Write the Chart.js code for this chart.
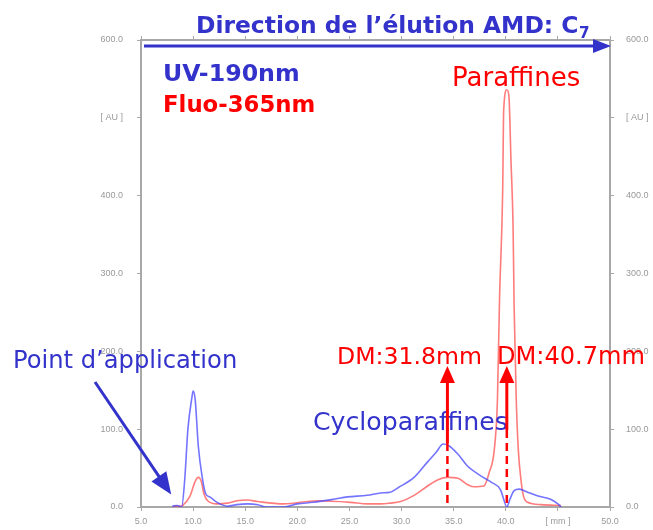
<!DOCTYPE html>
<html>
<head>
<meta charset="utf-8">
<script src="https://cdn.jsdelivr.net/npm/chart.js@4"></script>
<style>
  html, body { margin: 0; padding: 0; background: #fff; }
  canvas { display: block; }
</style>
</head>
<body>
<canvas id="chromato" width="653" height="530"></canvas>
<script>
// UV-190nm (bleu) : position sur la plaque (mm) et réponse (AU)
const uvPos = [8.0, 8.5, 8.9, 9.2, 9.5, 9.9, 10.0, 10.2, 10.5, 10.9,
  11.2, 11.6, 12.3, 13.3, 14.2, 15.2, 16.2, 17.0, 18.0, 18.7,
  20.0, 21.5, 23.5, 24.8, 26.7, 28.0, 28.9, 29.7, 31.2, 32.5,
  33.3, 34.0, 34.5, 35.4, 36.3, 37.6, 38.6, 39.5, 39.8, 40.1,
  40.4, 40.8, 41.3, 42.1, 43.1, 44.3, 45.0, 45.3];
const uvAU = [1, 2, 0, 36, 100, 142, 149, 138, 78, 36,
  17, 13, 6, 1, 3, 4, 3, 0, 0, 0,
  4, 6, 10, 13, 15, 18, 19, 25, 38, 58,
  70, 81, 79, 68, 53, 40, 32, 22, 10, 0,
  10, 21, 23, 19, 14, 10, 4, 0];

// Fluo-365nm (rouge)
const fluoPos = [8.1, 8.8, 9.0, 9.7, 10.2, 10.5, 10.8, 11.0, 11.4, 12.3,
  13.3, 14.2, 15.2, 16.2, 18.7, 21.9, 25.1, 26.7, 28.0, 28.9,
  29.9, 31.2, 32.5, 33.5, 34.4, 35.4, 36.3, 36.9, 37.9, 38.4,
  38.9, 39.2, 39.4, 39.7, 39.8, 40.1, 40.3, 40.5, 40.7, 40.8,
  41.0, 41.2, 41.5, 41.7, 42.1, 43.4, 45.3];
const fluoAU = [1, 1, 2, 14, 33, 38, 32, 19, 8, 4,
  5, 8, 9, 7, 4, 8, 6, 4, 4, 5,
  7, 15, 27, 35, 38, 37, 29, 26, 27, 44,
  74, 138, 267, 404, 510, 536, 528, 445, 360, 258,
  140, 74, 30, 14, 6, 3, 2];

// positions des flèches DM (mm sur l'axe)
const dmPos = [34.4, 40.1];
const dmLabels = ['DM:31.8mm', 'DM:40.7mm'];

// étiquettes des axes
const xTickLabels = {45: '[ mm ]'};
const yTickLabels = {500: '[ AU ]'};

const BLUE = '#3333cc';
const RED = '#ff0000';
const FONT = '"DejaVu Sans", sans-serif';

function toPoints(xs, ys) {
  return xs.map((x, i) => ({x: x, y: ys[i]}));
}

// écrit un texte dont la largeur est ajustée entre left et right
function fitText(ctx, text, left, right, cy, color, bold) {
  const w = bold ? 'bold ' : '';
  ctx.font = w + '20px ' + FONT;
  const size = 20 * (right - left) / ctx.measureText(text).width;
  ctx.font = w + size.toFixed(1) + 'px ' + FONT;
  ctx.fillStyle = color;
  ctx.textBaseline = 'middle';
  ctx.textAlign = 'left';
  ctx.fillText(text, left, cy);
}

function arrowHead(ctx, tipX, tipY, angle, len, half, color) {
  ctx.save();
  ctx.translate(tipX, tipY);
  ctx.rotate(angle);
  ctx.beginPath();
  ctx.moveTo(0, 0);
  ctx.lineTo(-len, -half);
  ctx.lineTo(-len, half);
  ctx.closePath();
  ctx.fillStyle = color;
  ctx.fill();
  ctx.restore();
}

const annotations = {
  id: 'annotations',
  afterDraw(chart) {
    const ctx = chart.ctx;
    const xs = chart.scales.x;
    const ys = chart.scales.y;
    const area = chart.chartArea;
    ctx.save();

    // titre avec C indice 7
    ctx.font = 'bold 20px ' + FONT;
    const t1 = 'Direction de l\u2019\u00e9lution AMD: C';
    const wMain = ctx.measureText(t1).width;
    ctx.font = 'bold 13px ' + FONT;
    const wSub = ctx.measureText('7').width;
    const scale = (590 - 196) / (wMain + wSub * 1.05);
    ctx.font = 'bold ' + (20 * scale).toFixed(1) + 'px ' + FONT;
    ctx.fillStyle = BLUE;
    ctx.textBaseline = 'alphabetic';
    ctx.fillText(t1, 196, 33);
    ctx.font = 'bold ' + (13 * scale).toFixed(1) + 'px ' + FONT;
    ctx.fillText('7', 196 + wMain * scale, 38);

    // flèche de direction d'élution
    ctx.strokeStyle = BLUE;
    ctx.lineWidth = 3;
    ctx.beginPath();
    ctx.moveTo(area.left + 3, 46);
    ctx.lineTo(area.right - 14, 46);
    ctx.stroke();
    arrowHead(ctx, area.right + 1, 46, 0, 18, 7, BLUE);

    fitText(ctx, 'UV-190nm', 163, 300, 75, BLUE, true);
    fitText(ctx, 'Fluo-365nm', 163, 315, 106, RED, true);
    fitText(ctx, 'Paraffines', 452, 580, 79, RED, false);
    fitText(ctx, 'Point d\u2019application', 13, 237, 362, BLUE, false);
    fitText(ctx, 'Cycloparaffines', 313, 508, 423, BLUE, false);
    fitText(ctx, dmLabels[0], 337, 482, 358, RED, false);
    fitText(ctx, dmLabels[1], 497, 645, 358, RED, false);

    // flèche "Point d'application"
    const tipX = xs.getPixelForValue(7.9), tipY = ys.getPixelForValue(16);
    const ang = Math.atan2(tipY - 382, tipX - 95);
    ctx.strokeStyle = BLUE;
    ctx.lineWidth = 3;
    ctx.beginPath();
    ctx.moveTo(95, 382);
    ctx.lineTo(tipX - 18 * Math.cos(ang), tipY - 18 * Math.sin(ang));
    ctx.stroke();
    arrowHead(ctx, tipX, tipY, ang, 22, 9, BLUE);

    // flèches DM
    const solidEnd = [443, 430];
    dmPos.forEach((p, i) => {
      const x = xs.getPixelForValue(p);
      ctx.strokeStyle = RED;
      ctx.setLineDash([]);
      ctx.lineWidth = 3;
      ctx.beginPath();
      ctx.moveTo(x, 380);
      ctx.lineTo(x, solidEnd[i]);
      ctx.stroke();
      arrowHead(ctx, x, 366, -Math.PI / 2, 17, 7.5, RED);
      ctx.setLineDash([8, 5]);
      ctx.lineWidth = 2.5;
      ctx.beginPath();
      ctx.moveTo(x, solidEnd[i]);
      ctx.lineTo(x, area.bottom);
      ctx.stroke();
    });
    ctx.restore();
  }
};

const tickFont = {family: '"Liberation Sans", sans-serif', size: 9};
const axisGrey = '#a8a8a8';

function fmtX(v) { return xTickLabels[v] || v.toFixed(1); }
function fmtY(v) { return yTickLabels[v] || v.toFixed(1); }

new Chart(document.getElementById('chromato').getContext('2d'), {
  type: 'line',
  data: {
    datasets: [
      {
        label: 'UV-190nm',
        data: toPoints(uvPos, uvAU),
        borderColor: 'rgba(70, 70, 255, 0.75)',
        borderWidth: 1.6,
        pointRadius: 0,
        cubicInterpolationMode: 'monotone',
        fill: false
      },
      {
        label: 'Fluo-365nm',
        data: toPoints(fluoPos, fluoAU),
        borderColor: 'rgba(255, 80, 80, 0.75)',
        borderWidth: 1.6,
        pointRadius: 0,
        cubicInterpolationMode: 'monotone',
        fill: false
      }
    ]
  },
  options: {
    responsive: false,
    animation: false,
    devicePixelRatio: 1,
    layout: {padding: 0},
    plugins: {legend: {display: false}, tooltip: {enabled: false}},
    scales: {
      x: {
        type: 'linear', position: 'bottom', min: 5, max: 50,
        ticks: {stepSize: 5, color: '#999', font: tickFont, padding: 5, maxRotation: 0, callback: fmtX},
        grid: {drawOnChartArea: false, tickLength: 4, color: axisGrey},
        border: {color: axisGrey, width: 2},
        afterFit(s) { s.height = 23; }
      },
      xTop: {
        type: 'linear', position: 'top', min: 5, max: 50,
        ticks: {stepSize: 5, display: false},
        grid: {drawOnChartArea: false, tickLength: 4, color: axisGrey},
        border: {color: axisGrey, width: 2},
        afterFit(s) { s.height = 40; }
      },
      y: {
        type: 'linear', position: 'left', min: 0, max: 600,
        ticks: {stepSize: 100, color: '#999', font: tickFont, padding: 14, callback: fmtY},
        grid: {drawOnChartArea: false, tickLength: 4, color: axisGrey},
        border: {color: axisGrey, width: 2},
        afterFit(s) { s.width = 141; }
      },
      yRight: {
        type: 'linear', position: 'right', min: 0, max: 600,
        ticks: {stepSize: 100, color: '#999', font: tickFont, padding: 12, callback: fmtY},
        grid: {drawOnChartArea: false, tickLength: 4, color: axisGrey},
        border: {color: axisGrey, width: 2},
        afterFit(s) { s.width = 43; }
      }
    }
  },
  plugins: [annotations]
});
</script>
</body>
</html>
